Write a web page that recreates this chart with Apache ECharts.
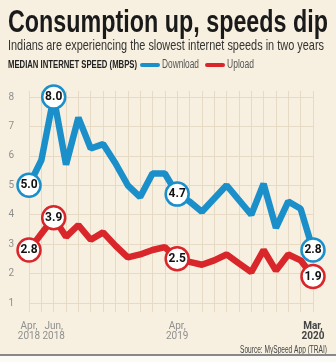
<!DOCTYPE html>
<html><head><meta charset="utf-8">
<script src="https://cdn.jsdelivr.net/npm/echarts@6/dist/echarts.min.js"></script>
<style>html,body{margin:0;padding:0;background:#f7f0e0;}#c{width:336px;height:362px;}</style>
</head><body><div id="c"></div>
<script>
const months = ['Apr 2018','May 2018','Jun 2018','Jul 2018','Aug 2018','Sep 2018','Oct 2018','Nov 2018','Dec 2018','Jan 2019','Feb 2019','Mar 2019','Apr 2019','May 2019','Jun 2019','Jul 2019','Aug 2019','Sep 2019','Oct 2019','Nov 2019','Dec 2019','Jan 2020','Feb 2020','Mar 2020'];
const tickLabels = {0:'Apr,\n2018', 2:'Jun,\n2018', 12:'Apr,\n2019', 23:'Mar,\n2020'};
const download = [5.0, 5.85, 8.0, 5.7, 7.3, 6.25, 6.4, 5.75, 5.0, 4.6, 5.4, 5.4, 4.7, 4.45, 4.1, 4.55, 5.0, 4.5, 4.0, 5.05, 3.55, 4.45, 4.2, 2.8];
const upload = [2.8, 3.35, 3.9, 3.25, 3.65, 3.15, 3.4, 2.95, 2.55, 2.65, 2.8, 2.9, 2.5, 2.4, 2.3, 2.45, 2.65, 2.35, 2.05, 2.8, 2.1, 2.65, 2.45, 1.9];
const labelled = [0, 2, 12, 23];
const yMin = 1, yMax = 8, yInterval = 1;

const BLUE = '#1b8fca', RED = '#d8262b', BG = '#f7f0e0', GRID = '#e6dac5';
const SANS = "'Liberation Sans', Arial, sans-serif";

const mctx = document.createElement('canvas').getContext('2d');
function fitText(text, font, x, y, w, fill, va) {
  mctx.font = font;
  const s = w / mctx.measureText(text).width;
  return {type: 'text', x: x, y: y, scaleX: s, scaleY: 1,
    style: {text: text, font: font, fill: fill, textAlign: 'left', textVerticalAlign: va || 'middle'}};
}

function mk(arr, color) {
  return arr.map((v, i) => labelled.includes(i) ? {
    value: v,
    itemStyle: {color: '#fff', borderColor: color, borderWidth: 2.5},
    label: {show: true, position: 'inside', formatter: v.toFixed(1), fontFamily: 'Roboto', fontWeight: 'bold', fontSize: 12, color: '#111'}
  } : v);
}
const symSize = (v, p) => labelled.includes(p.dataIndex) ? 23 : 0;

const chart = echarts.init(document.getElementById('c'), null, {renderer: 'canvas'});
chart.setOption({
  backgroundColor: BG,
  animation: false,
  grid: [
    {left: 29, right: 23, top: 97, bottom: 59, containLabel: false},
    {left: 29, right: 23, top: 91, bottom: 50, containLabel: false}
  ],
  xAxis: [
    {gridIndex: 0, type: 'category', data: months, boundaryGap: false,
     axisLine: {show: false}, axisTick: {show: false}, axisLabel: {show: false}, splitLine: {show: false}},
    {gridIndex: 1, type: 'category', data: months, boundaryGap: false,
     axisLine: {show: false}, axisTick: {show: false},
     splitLine: {show: true, lineStyle: {color: GRID, width: 1}},
     axisLabel: {show: true, interval: 0, margin: 9, fontFamily: 'Roboto', fontSize: 10, lineHeight: 10, color: '#8f8f8f',
       formatter: (v, i) => i === 23 ? '{d|Mar,}\n{d|2020}' : (tickLabels[i] || ''),
       rich: {d: {fontFamily: 'Roboto', fontSize: 10, lineHeight: 10, color: '#444', fontWeight: 'bold'}}}}
  ],
  yAxis: [
    {gridIndex: 0, type: 'value', min: yMin, max: yMax, interval: yInterval,
     axisLine: {show: false}, axisTick: {show: false},
     axisLabel: {margin: 15, fontFamily: 'Roboto', fontSize: 10, color: '#8f8f8f'},
     splitLine: {show: true, lineStyle: {color: GRID, width: 1}}},
    {gridIndex: 1, type: 'value', min: 0, max: 1, show: false, splitLine: {show: false}}
  ],
  series: [
    {name: 'Download', type: 'line', xAxisIndex: 0, yAxisIndex: 0, data: mk(download, BLUE),
     showSymbol: true, showAllSymbol: true, symbol: 'circle', symbolSize: symSize,
     lineStyle: {color: BLUE, width: 6.5}, itemStyle: {color: BLUE}, z: 3},
    {name: 'Upload', type: 'line', xAxisIndex: 0, yAxisIndex: 0, data: mk(upload, RED),
     showSymbol: true, showAllSymbol: true, symbol: 'circle', symbolSize: symSize,
     lineStyle: {color: RED, width: 6.5}, itemStyle: {color: RED}, z: 2}
  ],
  graphic: [
    fitText('Consumption up, speeds dip', 'bold 31px ' + SANS, 8, 23, 320, '#1a1a1a'),
    fitText('Indians are experiencing the slowest internet speeds in two years', '15px ' + SANS, 8, 46, 316, '#333'),
    fitText('MEDIAN INTERNET SPEED (MBPS)', 'bold 10px ' + SANS, 8, 65, 129, '#222'),
    {type: 'line', shape: {x1: 142, y1: 65, x2: 158, y2: 65}, style: {stroke: BLUE, lineWidth: 4, lineCap: 'round'}},
    fitText('Download', '12px ' + SANS, 162, 65, 37, '#555'),
    {type: 'line', shape: {x1: 207, y1: 65, x2: 223, y2: 65}, style: {stroke: RED, lineWidth: 4, lineCap: 'round'}},
    fitText('Upload', '12px ' + SANS, 227, 65, 27, '#555'),
    fitText('Source: MySpeed App (TRAI)', '10px ' + SANS, 240, 350, 87, '#444'),
    {type: 'rect', shape: {x: 0, y: 354, width: 336, height: 2}, style: {fill: '#888'}},
    {type: 'rect', shape: {x: 0, y: 356, width: 336, height: 6}, style: {fill: '#fbfaf6'}}
  ]
});
</script></body></html>
